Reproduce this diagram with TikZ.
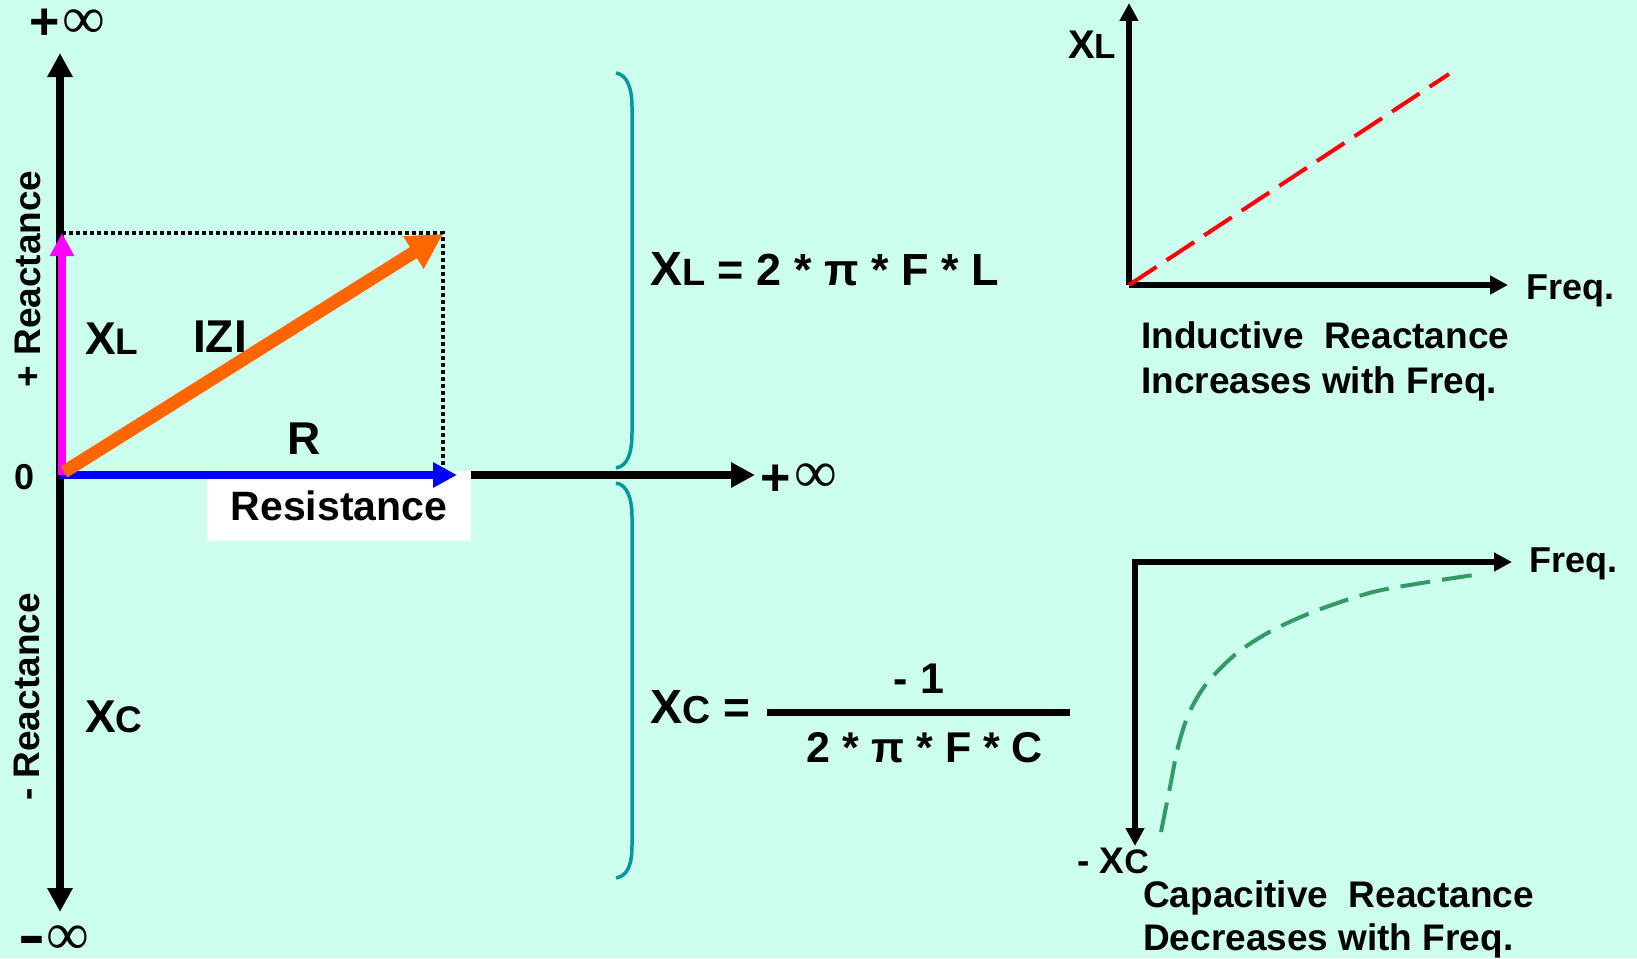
\documentclass[tikz,border=0pt]{standalone}
\usepackage{fontspec}
\usepackage{graphicx}
\setmainfont{Liberation Sans}
\newfontfamily\inffont{Liberation Serif}
\usetikzlibrary{arrows.meta}
\definecolor{bgc}{RGB}{204,255,238}
\definecolor{orng}{RGB}{255,102,0}
\definecolor{tealb}{RGB}{0,153,153}
\definecolor{grn}{RGB}{51,153,102}
\definecolor{magn}{RGB}{255,0,255}
\definecolor{bluearr}{RGB}{0,0,255}
\newcommand\fs[1]{\fontsize{#1}{#1}\selectfont}
\newcommand\infsym[1]{\raisebox{#1}{\inffont\mdseries\fontsize{60}{60}\selectfont ∞}}
\begin{document}
\begin{tikzpicture}[x=1pt,y=-1pt,
  lbl/.style={inner sep=0pt, font=\bfseries},
  bigaxis/.style={line width=8pt, -{Triangle[length=24pt,width=24pt]}},
  smallaxis/.style={line width=6.5pt, -{Triangle[length=18pt,width=18pt]}},
  bracepath/.style={tealb, line width=3.5pt},
  dotline/.style={line width=3.5pt, dash pattern=on 3.5pt off 3.5pt},
  ]
\useasboundingbox (0,0) rectangle (1637,958);
\fill[bgc] (0,0) rectangle (1637,958);

% ---------- left phasor diagram ----------
\coordinate (O) at (60,475);
\coordinate (ytop) at (60,53);
\coordinate (ybot) at (60,912);
\coordinate (xtip) at (755,475);
\draw[bigaxis] (O) -- (xtip);
\draw[line width=8pt, {Triangle[length=24pt,width=24pt]}-{Triangle[length=24pt,width=24pt]}] (ybot) -- (ytop);

\node[fill=white, minimum width=264pt, minimum height=70pt, inner sep=0pt, font=\bfseries\fs{41}] (res) at (339,506) {Resistance};

\coordinate (corner) at (443,233);
\coordinate (xlend) at (62,233);
\coordinate (rend) at (443,475);
\draw[dotline] (xlend) -- (corner) -- (rend);

\coordinate (Ob) at (60,475);
\coordinate (btip) at (457,475);
\draw[bluearr, line width=8pt, -{Triangle[length=24pt,width=24pt]}] (Ob) -- (btip);
\coordinate (Om) at (62,475);
\coordinate (mtip) at (62,233);
\draw[magn, line width=7.5pt, -{Triangle[length=23pt,width=23pt]}] (Om) -- (mtip);
\coordinate (Oo) at (64,472);
\coordinate (otip) at (443,234);
\draw[orng, line width=13pt, -{Triangle[length=35pt,width=36pt]}] (Oo) -- (otip);

\node[inner sep=0pt, anchor=base west] (pinf) at (29,40) {{\bfseries\fs{52}+}\kern3pt\infsym{1.5pt}};
\node[inner sep=0pt, anchor=base west] (minf) at (18,950) {\raisebox{-5.3pt}{\scalebox{1.35}[1]{\bfseries\fs{60}-}}\kern1pt\infsym{-4pt}};
\node[lbl, font=\bfseries\fs{36}] (zero) at (25,477) {0};
\node[lbl, font=\bfseries\fs{37}, rotate=90] (preac) at (28,279) {+ Reactance};
\node[lbl, font=\bfseries\fs{37}, rotate=90] (mreac) at (27,697) {- Reactance};
\node[lbl, anchor=base west] (xlleft) at (85,354) {\fs{46}X\fs{37}L};
\node[lbl, anchor=base west, font=\bfseries\fs{46}] (izi) at (193,352) {IZI};
\node[lbl, anchor=base west, font=\bfseries\fs{46}] (rlab) at (287,454) {R};
\node[lbl, anchor=base west] (xcleft) at (85,732) {\fs{46}X\fs{37}C};
\node[inner sep=0pt, anchor=base west] (pinf2) at (760,495) {{\bfseries\fs{52}+}\kern4pt\infsym{3pt}};

% ---------- braces ----------
\draw[bracepath] (616,73) .. controls (628,75) and (632,90) .. (632,107) -- (632,433) .. controls (632,452) and (628,466) .. (616,468);
\draw[bracepath] (616,483) .. controls (628,485) and (632,500) .. (632,517) -- (632,845) .. controls (632,864) and (628,876) .. (616,878);

% ---------- formulas ----------
\node[lbl, anchor=base west] (xlform) at (650,285) {\fs{48}X\fs{38}L\fs{45} = 2 * π * F * L};
\node[lbl, anchor=base west] (xceq) at (650,723) {\fs{48}X\fs{39}C\fs{46} =};
\coordinate (bar1) at (767,712);
\coordinate (bar2) at (1070,712);
\draw[line width=7pt] (bar1) -- (bar2);
\node[lbl, anchor=base, font=\bfseries\fs{43}] (num) at (919,693) {- 1};
\node[lbl, anchor=base, font=\bfseries\fs{43}] (den) at (925,762) {2 * π * F * C};

% ---------- top right graph ----------
\coordinate (O1) at (1129,285);
\coordinate (y1) at (1129,3);
\coordinate (x1) at (1508,285);
\coordinate (r1) at (1449,74);
\draw[smallaxis] (O1) -- (y1);
\draw[smallaxis] (O1) -- (x1);
\draw[red, line width=4pt, dash pattern=on 33pt off 12pt] (O1) -- (r1);
\node[lbl, anchor=base west] (xltop) at (1068,59) {\fs{40}X\fs{35}L};
\node[lbl, anchor=base west, font=\bfseries\fs{36}] (freq1) at (1526,299) {Freq.};
\node[lbl, anchor=base west, font=\bfseries\fs{37}] (ind1) at (1141,348) {Inductive~~Reactance};
\node[lbl, anchor=base west, font=\bfseries\fs{37}] (ind2) at (1141,393) {Increases with Freq.};

% ---------- bottom right graph ----------
\coordinate (O2) at (1135,562);
\coordinate (x2) at (1512,562);
\coordinate (y2) at (1135,846);
\draw[line width=6.5pt, {Triangle[length=18pt,width=18pt]}-{Triangle[length=18pt,width=18pt]}, line join=miter] (y2) -- (O2) -- (x2);
\draw[grn, line width=4pt, dash pattern=on 30pt off 12pt] plot[smooth] coordinates {(1161,832) (1170,787) (1178,747) (1189,713) (1207,683) (1237,653) (1273,630) (1318,610) (1373,592) (1428,582) (1474,575)};
\node[lbl, anchor=base west, font=\bfseries\fs{36}] (freq2) at (1529,572) {Freq.};
\node[lbl, anchor=base west] (mxc) at (1077,873) {\fs{37}- X\fs{34}C};
\node[lbl, anchor=base west, font=\bfseries\fs{37}] (cap1) at (1143,907) {Capacitive~~Reactance};
\node[lbl, anchor=base west, font=\bfseries\fs{37}] (cap2) at (1143,950) {Decreases with Freq.};
\end{tikzpicture}
\end{document}
